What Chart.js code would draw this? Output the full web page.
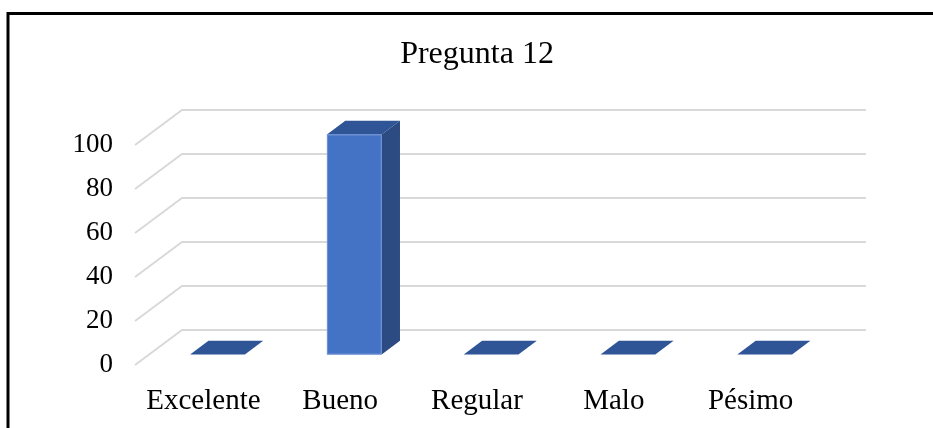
<!DOCTYPE html>
<html>
<head>
<meta charset="utf-8">
<title>Pregunta 12</title>
<script src="https://cdn.jsdelivr.net/npm/chart.js@4"></script>
<style>
  html, body { margin: 0; padding: 0; background: #fff; }
</style>
</head>
<body>
<canvas id="myChart" width="933" height="428"></canvas>
<script>
const categories = ["Excelente", "Bueno", "Regular", "Malo", "Pésimo"];
const values = [0, 100, 0, 0, 0];
const yTicks = [0, 20, 40, 60, 80, 100];

const serif = "'Liberation Serif', 'Times New Roman', serif";

// oblique depth of the floor/walls, and where the bar slab sits inside it
const depth = { dx: 47, dy: -35, front: 0.3, back: 0.69 };

function poly(ctx, pts) {
  ctx.beginPath();
  ctx.moveTo(pts[0][0], pts[0][1]);
  for (let i = 1; i < pts.length; i++) ctx.lineTo(pts[i][0], pts[i][1]);
  ctx.closePath();
  ctx.fill();
}

const bars3d = {
  id: "bars3d",
  beforeDraw(chart) {
    const ctx = chart.ctx;
    ctx.save();
    ctx.fillStyle = "#fff";
    ctx.fillRect(0, 0, chart.width, chart.height);
    ctx.strokeStyle = "#000";
    ctx.lineWidth = 3;
    ctx.strokeRect(8, 13.5, chart.width + 20, chart.height + 20);
    ctx.restore();
  },
  beforeDatasetsDraw(chart) {
    const ctx = chart.ctx;
    const area = chart.chartArea;
    const yScale = chart.scales.y;

    // gridlines: short diagonal on the left wall, then along the back wall
    ctx.save();
    ctx.strokeStyle = "#d9d9d9";
    ctx.lineWidth = 2;
    yScale.ticks.forEach((t) => {
      const py = yScale.getPixelForValue(t.value);
      ctx.beginPath();
      ctx.moveTo(area.left, py);
      ctx.lineTo(area.left + depth.dx, py + depth.dy);
      ctx.lineTo(area.right + depth.dx, py + depth.dy);
      ctx.stroke();
    });

    const fx = depth.dx * depth.front;
    const fy = depth.dy * depth.front;
    const bx = depth.dx * (depth.back - depth.front);
    const by = depth.dy * (depth.back - depth.front);

    chart.getDatasetMeta(0).data.forEach((bar) => {
      const p = bar.getProps(["x", "y", "base", "width"], true);
      const l = p.x - p.width / 2 + fx;
      const r = p.x + p.width / 2 + fx;
      const t = p.y + fy;
      const b = p.base + fy;

      ctx.fillStyle = "#2b4b82";
      poly(ctx, [[r, t], [r + bx, t + by], [r + bx, b + by], [r, b]]);
      ctx.fillStyle = "#2f5597";
      poly(ctx, [[l, t], [r, t], [r + bx, t + by], [l + bx, t + by]]);
      if (b - t > 0) {
        ctx.fillStyle = "#4472c4";
        ctx.fillRect(l, t, r - l, b - t);
        ctx.strokeStyle = "#6f92d3";
        ctx.lineWidth = 1;
        ctx.strokeRect(l + 0.5, t + 0.5, r - l - 1, b - t - 1);
      }
    });
    ctx.restore();
    return false;
  },
};

const ctx = document.getElementById("myChart");
const myChart = new Chart(ctx, {
  type: "bar",
  data: {
    labels: categories,
    datasets: [
      {
        label: "Pregunta 12",
        data: values,
        backgroundColor: "#4472c4",
        categoryPercentage: 1,
        barPercentage: 0.4,
      },
    ],
  },
  options: {
    responsive: false,
    devicePixelRatio: 1,
    animation: false,
    layout: { padding: { left: 0, right: 114, top: 0, bottom: 0 } },
    plugins: {
      legend: { display: false },
      tooltip: { enabled: false },
      title: {
        display: true,
        fullSize: false,
        text: "Pregunta 12",
        color: "#000",
        font: { family: serif, size: 32, weight: "normal", lineHeight: 1.2 },
        padding: { top: 35, bottom: 71.6 },
      },
    },
    scales: {
      x: {
        grid: { display: false },
        border: { display: false },
        ticks: {
          color: "#000",
          font: { family: serif, size: 29 },
          padding: 11,
          maxRotation: 0,
          autoSkip: false,
        },
        afterFit: (s) => { s.height = 63; },
      },
      y: {
        min: 0,
        max: 100,
        grid: { display: false },
        border: { display: false },
        ticks: {
          color: "#000",
          font: { family: serif, size: 27 },
          padding: 14,
        },
        afterBuildTicks: (s) => { s.ticks = yTicks.map((v) => ({ value: v })); },
        afterFit: (s) => { s.width = 135; },
      },
    },
  },
  plugins: [bars3d],
});
</script>
</body>
</html>
